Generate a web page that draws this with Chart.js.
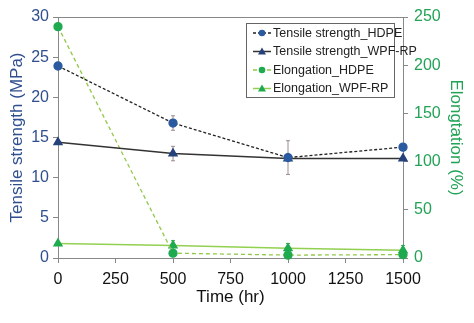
<!DOCTYPE html>
<html>
<head>
<meta charset="utf-8">
<script src="https://cdn.jsdelivr.net/npm/chart.js"></script>
<style>
  html, body { margin: 0; padding: 0; background: #fff; }
  #wrap { width: 474px; height: 323px; position: relative; }
</style>
</head>
<body>
<div id="wrap"><canvas id="myChart" width="474" height="323"></canvas></div>
<script>
// data
const times = [0, 500, 1000, 1500];
const tensileHDPE = [23.9, 16.8, 12.5, 13.8];
const tensileHDPEErr = [0, 0.9, 2.1, 0.3];
const tensileWPF = [14.4, 13.0, 12.4, 12.4];
const tensileWPFErr = [0, 0.9, 0, 0];
const elongHDPE = [240, 5, 3, 3.5];
const elongHDPEErr = [0, 2, 2, 4];
const elongWPF = [15, 13, 10, 8];
const elongWPFErr = [0, 5, 5, 5];
const xTicks = [0, 250, 500, 750, 1000, 1250, 1500];

const blue = '#2f4f8f';
const green = '#22a356';
const font = 'Liberation Sans, Arial, sans-serif';

function pts(ys) {
  return times.map((t, i) => ({x: t, y: ys[i]}));
}

// error bars, drawn under the points
const errorBars = {
  id: 'errorBars',
  beforeDatasetsDraw(chart) {
    const ctx = chart.ctx;
    chart.data.datasets.forEach((ds, di) => {
      if (!ds.err) return;
      const xs = chart.scales.x, ys = chart.scales[ds.yAxisID];
      ctx.save();
      ctx.strokeStyle = ds.errColor;
      ctx.lineWidth = 1;
      ds.err.forEach((e, i) => {
        if (!e) return;
        const px = xs.getPixelForValue(times[i]);
        const top = ys.getPixelForValue(ds.data[i].y + e);
        const bot = ys.getPixelForValue(ds.data[i].y - e);
        ctx.beginPath();
        ctx.moveTo(px, top); ctx.lineTo(px, bot);
        ctx.moveTo(px - 2, top); ctx.lineTo(px + 2, top);
        ctx.moveTo(px - 2, bot); ctx.lineTo(px + 2, bot);
        ctx.stroke();
      });
      ctx.restore();
    });
  }
};

// top frame line + legend box inside plot
const boxLegend = {
  id: 'boxLegend',
  afterDraw(chart) {
    const ctx = chart.ctx;
    const a = chart.chartArea;
    ctx.save();
    ctx.strokeStyle = '#888';
    ctx.lineWidth = 1;
    ctx.beginPath();
    ctx.moveTo(a.left, a.top + 0.5); ctx.lineTo(a.right, a.top + 0.5);
    ctx.stroke();

    const bx = 246, by = 23, bw = 148, bh = 74;
    ctx.fillStyle = '#fff';
    ctx.fillRect(bx, by, bw, bh);
    ctx.strokeStyle = '#666';
    ctx.strokeRect(bx + 0.5, by + 0.5, bw, bh);

    chart.data.datasets.forEach((ds, i) => {
      const y = 33 + i * 18.5;
      ctx.strokeStyle = ds.borderColor;
      ctx.lineWidth = ds.borderWidth;
      ctx.setLineDash(ds.borderDash || []);
      ctx.beginPath();
      ctx.moveTo(253, y); ctx.lineTo(271, y);
      ctx.stroke();
      ctx.setLineDash([]);
      ctx.fillStyle = ds.pointBackgroundColor;
      ctx.beginPath();
      if (ds.pointStyle === 'triangle') {
        ctx.moveTo(262, y - 4); ctx.lineTo(266, y + 3); ctx.lineTo(258, y + 3);
      } else {
        ctx.arc(262, y, 3.3, 0, Math.PI * 2);
      }
      ctx.fill();
      ctx.fillStyle = '#222';
      ctx.font = '12.5px ' + font;
      ctx.textBaseline = 'middle';
      ctx.fillText(ds.label, 273, y + 0.5);
    });
    ctx.restore();
  }
};

new Chart('myChart', {
  type: 'line',
  data: {
    datasets: [{
      label: 'Tensile strength_HDPE',
      data: pts(tensileHDPE), err: tensileHDPEErr, errColor: '#9a8a8c',
      yAxisID: 'y', clip: false,
      borderColor: '#222', borderWidth: 1.3, borderDash: [3, 2],
      pointStyle: 'circle', pointRadius: 4,
      pointBackgroundColor: '#2b5aa0', pointBorderColor: '#2b5aa0'
    }, {
      label: 'Tensile strength_WPF-RP',
      data: pts(tensileWPF), err: tensileWPFErr, errColor: '#9a8a8c',
      yAxisID: 'y', clip: false,
      borderColor: '#333', borderWidth: 1.5,
      pointStyle: 'triangle', pointRadius: 4.5,
      pointBackgroundColor: '#25427a', pointBorderColor: '#25427a'
    }, {
      label: 'Elongation_HDPE',
      data: pts(elongHDPE), err: elongHDPEErr, errColor: '#3cb050',
      yAxisID: 'y2', clip: false,
      borderColor: '#92c84a', borderWidth: 1.3, borderDash: [4, 3],
      pointStyle: 'circle', pointRadius: 4,
      pointBackgroundColor: '#1faa4f', pointBorderColor: '#1faa4f'
    }, {
      label: 'Elongation_WPF-RP',
      data: pts(elongWPF), err: elongWPFErr, errColor: '#3cb050',
      yAxisID: 'y2', clip: false,
      borderColor: '#92d050', borderWidth: 1.5,
      pointStyle: 'triangle', pointRadius: 4.5,
      pointBackgroundColor: '#1faa4f', pointBorderColor: '#1faa4f'
    }]
  },
  options: {
    responsive: false,
    animation: false,
    layout: {padding: {top: 17, left: 0, right: 0, bottom: 0}},
    plugins: {legend: {display: false}, tooltip: {enabled: false}},
    scales: {
      x: {
        type: 'linear', min: 0, max: 1500,
        afterBuildTicks: s => { s.ticks = xTicks.map(v => ({value: v})); },
        afterFit: s => { s.height = 65; },
        ticks: {color: '#111', font: {family: font, size: 16}, padding: 7, callback: v => String(v)},
        grid: {drawOnChartArea: false, tickLength: 5, color: '#888'},
        border: {color: '#888'},
        title: {display: true, text: 'Time (hr)', color: '#111', font: {family: font, size: 17}, padding: {top: 0, bottom: 15}}
      },
      y: {
        position: 'left', min: 0, max: 30,
        afterFit: s => { s.width = 58; },
        ticks: {stepSize: 5, color: blue, font: {family: font, size: 16}, padding: 4},
        grid: {drawOnChartArea: false, tickLength: 5, color: '#888'},
        border: {color: '#888'},
        title: {display: true, text: 'Tensile strength (MPa)', color: blue, font: {family: font, size: 17}, padding: {top: 7, bottom: 0}}
      },
      y2: {
        position: 'right', min: 0, max: 250,
        afterFit: s => { s.width = 71; },
        ticks: {stepSize: 50, color: green, font: {family: font, size: 16}, padding: 6},
        grid: {drawOnChartArea: false, tickLength: 5, color: '#888'},
        border: {color: '#888'},
        title: {display: true, text: 'Elongtation (%)', color: green, font: {family: font, size: 17}, padding: {top: 8, bottom: 0}}
      }
    }
  },
  plugins: [errorBars, boxLegend]
});
</script>
</body>
</html>
